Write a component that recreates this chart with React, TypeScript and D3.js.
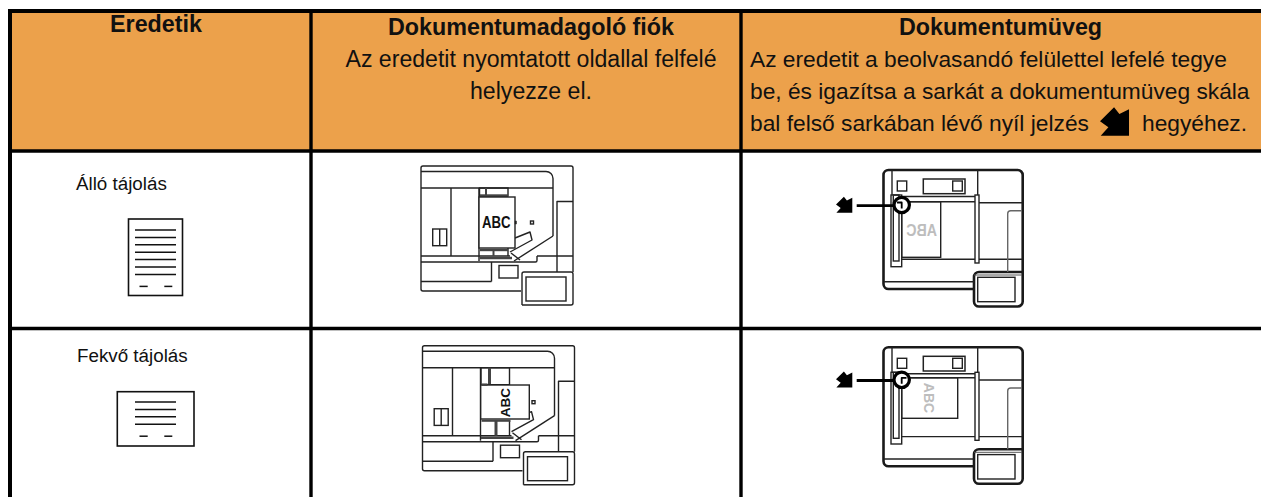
import React from 'react';
import * as d3 from 'd3';

const WIDTH = 1261;
const HEIGHT = 497;

// table content
const headerTitles = ['Eredetik', 'Dokumentumadagoló fiók', 'Dokumentumüveg'];
const feederNote = ['Az eredetit nyomtatott oldallal felfelé', 'helyezze el.'];
const glassNote = [
  'Az eredetit a beolvasandó felülettel lefelé tegye',
  'be, és igazítsa a sarkát a dokumentumüveg skála',
  'bal felső sarkában lévő nyíl jelzés',
];
const glassNoteEnd = 'hegyéhez.';
const rowLabels = ['Álló tájolás', 'Fekvő tájolás'];
const portraitLines = d3.range(7);
const landscapeLines = d3.range(4);

const FONT = '"Liberation Sans", Arial, sans-serif';
const ORANGE = '#eca14b';
const INK = '#111';

const line = d3.line();
type P = [number, number];

const Stroke = ({ d, w = 1.4, c = '#222', fill = 'none' }: { d: string; w?: number; c?: string; fill?: string }) => (
  <path d={d} stroke={c} strokeWidth={w} fill={fill} strokeLinejoin="round" />
);
const Poly = ({ p, w, c, fill }: { p: P[]; w?: number; c?: string; fill?: string }) => (
  <Stroke d={line(p) as string} w={w} c={c} fill={fill} />
);
const Box = ({ x0, y0, x1, y1, w, c, fill }: any) => (
  <rect x={x0} y={y0} width={x1 - x0} height={y1 - y0} stroke={c ?? '#222'} strokeWidth={w ?? 1.4} fill={fill ?? 'none'} />
);

// rounded corner polyline
const rounded = (pts: P[], r: number) => {
  const path = d3.path();
  path.moveTo(pts[0][0], pts[0][1]);
  for (let i = 1; i < pts.length - 1; i++) path.arcTo(pts[i][0], pts[i][1], pts[i + 1][0], pts[i + 1][1], r);
  const last = pts[pts.length - 1];
  path.lineTo(last[0], last[1]);
  return path.toString();
};

// the sheet icons in the first column
const SheetIcon = ({ x0, x1, y0, y1, rows, top }: { x0: number; x1: number; y0: number; y1: number; rows: number[]; top: number }) => {
  const yRow = d3.scaleLinear().domain([0, 1]).range([top, top + 7.4]);
  const dashY = yRow(rows.length - 1) + 12;
  return (
    <g>
      <Box x0={x0} y0={y0} x1={x1} y1={y1} w={1.6} c="#111" />
      {rows.map(r => (
        <line key={r} x1={135} x2={176} y1={yRow(r)} y2={yRow(r)} stroke="#111" strokeWidth={1.5} />
      ))}
      <line x1={139.5} x2={147.7} y1={dashY} y2={dashY} stroke="#111" strokeWidth={1.5} />
      <line x1={164.3} x2={172.3} y1={dashY} y2={dashY} stroke="#111" strokeWidth={1.5} />
    </g>
  );
};

// copier seen from above, with the feeder tray
const Feeder = ({ dx, dy, landscape }: { dx: number; dy: number; landscape?: boolean }) => (
  <g transform={`translate(${dx},${dy})`}>
    <Stroke d={rounded([[521, 291], [421, 291], [421, 166], [573, 166], [573, 272]], 2)} />
    <Stroke d={rounded([[421, 171.5], [553, 171.5], [553, 236]], 7)} />
    <Poly p={[[553, 236], [514, 261]]} />
    <Poly p={[[421, 188], [553, 188]]} />
    <Poly p={[[451, 188], [451, 256]]} />
    <Poly p={[[479, 188], [479, 261]]} />
    <Poly p={[[421, 256], [510, 256]]} />
    <Poly p={[[537, 256], [573, 256]]} />
    <Stroke d={rounded([[421, 262], [537, 262], [537, 256]], 1.5)} />
    <Poly p={[[421, 281.5], [491.5, 281.5]]} />
    <Poly p={[[491.5, 262], [491.5, 281.5]]} />
    <Box x0={499} y0={265.5} x1={518} y1={278} />
    <Poly p={[[557, 272], [557, 201.5], [573, 201.5]]} />
    <Stroke d={rounded([[522, 305], [522, 272], [573, 272], [573, 305], [522, 305]], 2)} />
    <Box x0={526} y0={277} x1={566} y1={301} />
    <Box x0={432.7} y0={229} x1={446.7} y1={245.7} />
    <Poly p={[[439.7, 229], [439.7, 245.7]]} />
    <Poly p={[[479.5, 258], [512, 258]]} w={2.5} c="#444" />
    <Poly p={[[511, 253], [520, 260]]} />
    <Poly p={[[510, 252], [532, 240], [530, 232], [515, 238]]} />
    <Box x0={530.5} y0={221} x1={533.5} y1={224} />
    {landscape ? (
      <g>
        <Box x0={479.5} y0={188} x1={508} y1={205} />
        <Poly p={[[508, 241], [508, 256]]} />
        <Poly p={[[488, 188], [488, 205]]} w={3} c="#444" />
        <Poly p={[[494.5, 241], [494.5, 256]]} w={3} c="#444" />
        <Box x0={479.2} y0={205.3} x1={527.8} y1={239.3} fill="#fff" w={1.4} />
        <text transform="translate(508.5,223) rotate(-90)" textAnchor="middle" fontFamily={FONT} fontWeight="bold" fontSize={13.5} fill={INK}>ABC</text>
        <Poly p={[[480, 205], [486, 205]]} w={2.5} c="#444" />
        <Poly p={[[480, 241], [509, 241]]} w={2.2} c="#444" />
      </g>
    ) : (
      <g>
        <Box x0={479.5} y0={188} x1={508} y1={196} />
        <Poly p={[[508, 248], [508, 256]]} />
        <Poly p={[[486, 188], [486, 195]]} w={2} c="#444" />
        <Poly p={[[493.5, 250], [493.5, 256]]} w={2} c="#444" />
        <Poly p={[[480, 195.5], [508, 195.5]]} w={2.4} c="#444" />
        <Poly p={[[480, 250], [508, 250]]} w={2.4} c="#444" />
        <Box x0={479} y0={197} x1={515} y1={248} fill="#fff" w={1.4} />
        <text transform="translate(482,227.5) scale(.8,1)" fontFamily={FONT} fontWeight="bold" fontSize={16.5} fill={INK}>ABC</text>
        <Box x0={515} y0={221} x1={516.5} y1={224} fill="#222" w={.5} />
      </g>
    )}
  </g>
);

// corner arrow mark, drawn around its own origin
const arrowMark: P[] = [[0, 7.8], [7.9, 0], [10.9, 3.8], [16.3, 1.1], [16.3, 16], [0.4, 16], [4.7, 11.2]];
const ArrowMark = ({ x, y, k = 1 }: { x: number; y: number; k?: number }) => (
  <path transform={`translate(${x},${y}) scale(${k})`} d={(line(arrowMark) as string) + 'Z'} fill="#000" />
);

// copier seen from above, lid open on the glass
const Glass = ({ dy, landscape }: { dy: number; landscape?: boolean }) => {
  const shift = landscape ? -2.5 : 0;
  return (
    <g transform={`translate(0,${dy})`}>
      <Stroke d={rounded([[974, 289], [883.5, 289], [883.5, 170], [1022.7, 170], [1022.7, 306.5], [974, 306.5], [974, 272], [1022, 272]], 5)} w={2.6} c="#1a1a1a" />
      <Poly p={[[974, 275], [1022, 275]]} w={1} c="#555" />
      <Poly p={[[884, 281.7], [974, 281.7]]} />
      <Box x0={977.7} y0={277.3} x1={1015} y1={301.7} />
      <Poly p={[[977.7, 170], [977.7, 195]]} />
      <Poly p={[[892, 170], [892, 195]]} />
      <Box x0={897.3} y0={181} x1={906.7} y1={191} />
      <Box x0={923.3} y0={179} x1={965} y1={193.7} w={1.5} />
      <Box x0={952.7} y0={181} x1={962.3} y1={191} />
      <Poly p={[[891, 196.5], [975, 196.5]]} />
      <Poly p={[[901.7, 201.7 + shift / 2], [975, 201.7 + shift / 2]]} w={1.4} />
      <Poly p={[[979, 202.7], [1022, 202.7]]} />
      <Poly p={[[901.7, 259.3], [1022, 259.3]]} />
      <Stroke d={rounded([[1007.7, 272], [1007.7, 210.7], [1022, 210.7]], 3)} c="#666" />
      <Box x0={901.7} y0={201.7 + shift / 2} x1={landscape ? 957.7 : 940.7} y1={landscape ? 241 : 257.3} w={1.4} />
      {landscape ? (
        <text transform="translate(923.5,220.7) rotate(90)" textAnchor="middle" fontFamily={FONT} fontWeight="bold" fontSize={14} fill="#bdbdbd">ABC</text>
      ) : (
        <text transform="translate(937,235.7) scale(-.87,1)" fontFamily={FONT} fontWeight="bold" fontSize={16.3} fill="#bdbdbd">ABC</text>
      )}
      <Box x0={891} y0={195} x1={901.7} y1={266.7} fill="#fff" />
      <Box x0={893.3} y0={195} x1={899} y1={261} />
      <Box x0={975} y0={195} x1={979} y1={263} fill="#fff" />
      <Poly p={[[856.7, 205.7 + shift], [895, 205.7 + shift]]} w={2.8} c="#000" />
      <circle cx={901.7} cy={205 + shift} r={7.7} fill="#fff" stroke="#000" strokeWidth={3.2} />
      {landscape ? (
        <Poly p={[[906.5, 200.5], [901.7, 200.5], [901.7, 206.5]]} w={1.8} c="#000" />
      ) : (
        <Poly p={[[897, 202.5], [901.7, 202.5], [901.7, 208.5]]} w={1.8} c="#000" />
      )}
      <ArrowMark x={836} y={196.7 + shift} />
    </g>
  );
};

const App = () => {
  // column and row rules of the table
  const xRule = d3.scaleOrdinal<number, number>().domain([0, 1, 2]).range([10, 311, 741]);
  const yRule = d3.scaleOrdinal<number, number>().domain([0, 1, 2]).range([11, 151, 328.5]);
  const headerY = d3.scaleLinear().domain([0, 1]).range([66.5, 98.7]);

  return (
    <svg width={WIDTH} height={HEIGHT} style={{ position: 'absolute', left: 0, top: 0, background: '#fff' }}>
      <rect x={xRule(0)} y={yRule(0)} width={WIDTH - xRule(0)} height={yRule(1) - yRule(0)} fill={ORANGE} />

      {[0, 1, 2].map(i => (
        <line key={i} x1={xRule(i)} x2={xRule(i)} y1={9} y2={HEIGHT} stroke="#000" strokeWidth={i === 0 ? 4 : 3.4} />
      ))}
      {[0, 1, 2].map(i => (
        <line key={i} x1={8} x2={WIDTH} y1={yRule(i)} y2={yRule(i)} stroke="#000" strokeWidth={i === 0 ? 4.2 : 3.6} />
      ))}

      <g fontFamily={FONT} fill={INK}>
        <g fontWeight="bold" fontSize={23.3} textAnchor="middle">
          <text x={156} y={32}>{headerTitles[0]}</text>
          <text x={531} y={35}>{headerTitles[1]}</text>
          <text x={1000.5} y={35}>{headerTitles[2]}</text>
        </g>
        {feederNote.map((t, i) => (
          <text key={t} x={531} y={headerY(i)} textAnchor="middle" fontSize={23.1}>{t}</text>
        ))}
        {glassNote.map((t, i) => (
          <text key={t} x={750} y={headerY(i)} fontSize={22.75}>{t}</text>
        ))}
        <text x={1142} y={headerY(2)} fontSize={22.75}>{glassNoteEnd}</text>
      </g>
      <ArrowMark x={1100} y={107.3} k={1.78} />

      <g fontFamily={FONT} fill={INK} fontSize={18.8}>
        <text x={76} y={190}>{rowLabels[0]}</text>
        <text x={77} y={361.7}>{rowLabels[1]}</text>
      </g>

      <SheetIcon x0={128.5} x1={182.5} y0={219} y1={295.5} rows={portraitLines} top={230} />
      <SheetIcon x0={117.3} x1={194} y0={391.7} y1={446} rows={landscapeLines} top={402} />

      <Feeder dx={0} dy={0} />
      <Feeder dx={1.5} dy={179.7} landscape />
      <Glass dy={0} />
      <Glass dy={177.3} landscape />
    </svg>
  );
};

export default App;
